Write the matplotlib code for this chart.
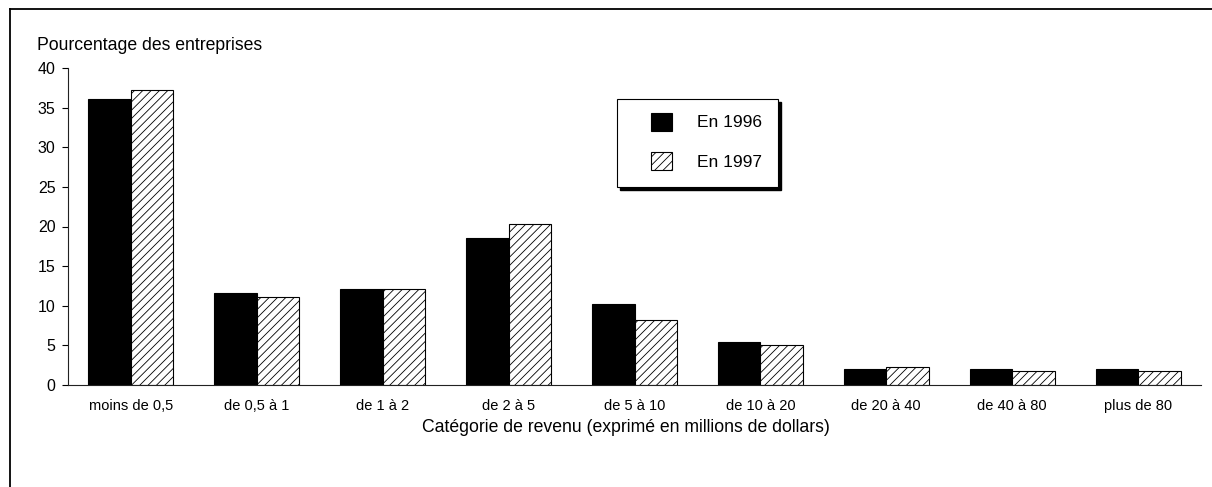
import matplotlib
matplotlib.use("Agg")
import matplotlib.pyplot as plt
from matplotlib.patches import Rectangle
from matplotlib.lines import Line2D
import numpy as np

# Data
categories = ["moins de 0,5", "de 0,5 à 1", "de 1 à 2", "de 2 à 5", "de 5 à 10",
              "de 10 à 20", "de 20 à 40", "de 40 à 80", "plus de 80"]
pct_1996 = [36.1, 11.6, 12.1, 18.5, 10.2, 5.4, 2.0, 2.0, 2.0]
pct_1997 = [37.2, 11.1, 12.1, 20.3, 8.2, 5.0, 2.3, 1.8, 1.8]
series_labels = ["En 1996", "En 1997"]
y_ticks = [0, 5, 10, 15, 20, 25, 30, 35, 40]

W, H = 1212, 487
BAR_W = 0.338

plt.rcParams['font.family'] = ['Liberation Sans', 'DejaVu Sans']
plt.rcParams['hatch.linewidth'] = 0.6


def fx(px):
    return px / W


def fy(py):
    return 1 - py / H


def main():
    fig = plt.figure(figsize=(W / 100, H / 100), dpi=100)
    ax = fig.add_axes([fx(68), fy(385), fx(1201) - fx(68), fy(68) - fy(385)])

    x = np.arange(len(categories))
    b1 = ax.bar(x - BAR_W / 2, pct_1996, BAR_W, color='black', edgecolor='black',
                linewidth=0.8, label=series_labels[0])
    b2 = ax.bar(x + BAR_W / 2, pct_1997, BAR_W, color='white', edgecolor='black',
                linewidth=0.8, hatch='////', label=series_labels[1])

    ax.set_xlim(-0.5, len(categories) - 0.5)
    ax.set_ylim(0, 40)
    ax.set_yticks(y_ticks)
    ax.set_xticks(x)
    ax.set_xticklabels(categories, fontsize=10.5)
    ax.tick_params(axis='x', length=0, pad=10)
    ax.tick_params(axis='y', length=4, width=0.8, pad=5, labelsize=11.5)

    for side in ('top', 'right'):
        ax.spines[side].set_visible(False)
    for side in ('left', 'bottom'):
        ax.spines[side].set_linewidth(0.8)
        ax.spines[side].set_color('#222222')

    # axis titles
    fig.text(fx(37), fy(50), "Pourcentage des entreprises", fontsize=12.7,
             ha='left', va='baseline')
    fig.text(fx(626), fy(432), "Catégorie de revenu (exprimé en millions de dollars)",
             fontsize=12.7, ha='center', va='baseline')

    # legend box with hard shadow
    lx0, lx1, ly0, ly1 = 617, 778, 99, 187
    fig.patches.append(Rectangle((fx(lx0 + 3), fy(ly1 + 3)), fx(lx1 - lx0), fy(ly0) - fy(ly1),
                                 transform=fig.transFigure, facecolor='black',
                                 edgecolor='black', zorder=5))
    fig.patches.append(Rectangle((fx(lx0), fy(ly1)), fx(lx1 - lx0), fy(ly0) - fy(ly1),
                                 transform=fig.transFigure, facecolor='white',
                                 edgecolor='black', linewidth=0.8, zorder=6))
    fs = 12.5
    fs_px = fs * 100 / 72
    leg = fig.legend(handles=[b1, b2], loc='upper left',
                     bbox_to_anchor=(fx(642), fy(104)), bbox_transform=fig.transFigure,
                     frameon=False, borderpad=0, fontsize=fs,
                     handlelength=21 / fs_px, handleheight=21 / fs_px,
                     handletextpad=25 / fs_px, labelspacing=1.25)
    leg.set_zorder(7)

    # outer frame of the original figure
    fig.add_artist(Line2D([fx(10), fx(10)], [fy(9), 0], transform=fig.transFigure,
                          color='black', linewidth=1.3))
    fig.add_artist(Line2D([fx(10), 1], [fy(9), fy(9)], transform=fig.transFigure,
                          color='black', linewidth=1.3))

    fig.savefig("out.png", dpi=100)


if __name__ == "__main__":
    main()
